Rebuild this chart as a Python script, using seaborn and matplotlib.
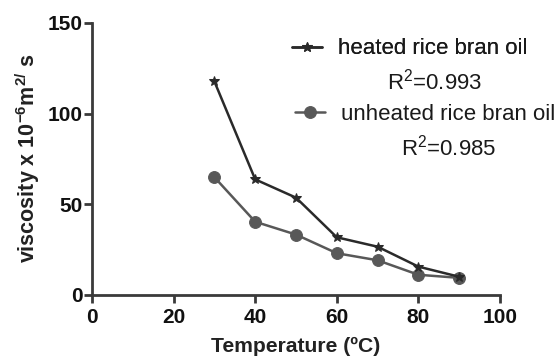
import matplotlib
matplotlib.use("Agg")
import matplotlib.pyplot as plt
import seaborn as sns
import pandas as pd

temperature = [30, 40, 50, 60, 70, 80, 90]
heated = [117.7, 63.6, 53.5, 31.6, 26.4, 15.4, 9.8]
unheated = [64.8, 40.2, 33.1, 22.8, 18.9, 10.9, 9.2]
series_names = ["heated rice bran oil", "unheated rice bran oil"]
r2_labels = ["R$^2$=0.993", "R$^2$=0.985"]
x_ticks = [0, 20, 40, 60, 80, 100]
y_ticks = [0, 50, 100, 150]

sns.set_style("ticks")
plt.rcParams["font.family"] = ["Liberation Sans", "DejaVu Sans"]
plt.rcParams["mathtext.fontset"] = "custom"
plt.rcParams["mathtext.rm"] = "Liberation Sans"
plt.rcParams["mathtext.bf"] = "Liberation Sans:bold"
plt.rcParams["mathtext.default"] = "rm"

fig = plt.figure(figsize=(5.59, 3.59), dpi=100)
ax = fig.add_axes([92 / 559, 1 - 294.5 / 359, 408 / 559, 271.5 / 359])

df_h = pd.DataFrame({"T": temperature, "v": heated})
df_u = pd.DataFrame({"T": temperature, "v": unheated})

sns.lineplot(data=df_h, x="T", y="v", ax=ax, color="#2a2a2a", lw=1.8,
             marker="*", markersize=7.5, markeredgecolor="#2a2a2a", label=series_names[0],
             legend=False, zorder=4)
sns.lineplot(data=df_u, x="T", y="v", ax=ax, color="#585858", lw=1.8,
             marker="o", markersize=8.5, markeredgecolor="#585858", label=series_names[1],
             legend=False, zorder=3)

ax.set_xlim(0, 100)
ax.set_ylim(0, 150)
ax.set_xticks(x_ticks)
ax.set_yticks(y_ticks)
for s in ["top", "right"]:
    ax.spines[s].set_visible(False)
for s in ["left", "bottom"]:
    ax.spines[s].set_linewidth(2.0)
    ax.spines[s].set_color("#3a3a3a")
ax.tick_params(axis="both", direction="out", length=6, width=2, color="#3a3a3a",
               labelsize=15, labelcolor="#111111")
ax.tick_params(axis="y", pad=1)
ax.tick_params(axis="x", pad=4)
for lab in ax.get_xticklabels() + ax.get_yticklabels():
    lab.set_fontweight("bold")

ax.set_xlabel("Temperature (ºC)", fontsize=15.2, fontweight="bold", color="#222222", labelpad=7)
ax.set_ylabel("viscosity x 10$^{\\mathbf{-6}}$m$^{\\mathbf{2/}}$ s", fontsize=15.5,
              fontweight="bold", color="#222222", labelpad=4)

lines = ax.get_lines()
leg1 = fig.legend(handles=[lines[0]], labels=[series_names[0]], loc="center left",
                  bbox_to_anchor=(292 / 559, 1 - 49 / 359), frameon=False, fontsize=16,
                  borderpad=0, borderaxespad=0, handlelength=1.35, handletextpad=0.7)
fig.add_artist(leg1)
leg2 = fig.legend(handles=[lines[1]], labels=[series_names[1]], loc="center left",
                  bbox_to_anchor=(295 / 559, 1 - 114 / 359), frameon=False, fontsize=16,
                  borderpad=0, borderaxespad=0, handlelength=1.35, handletextpad=0.7)
for lg in (leg1, leg2):
    for t in lg.get_texts():
        t.set_color("#1a1a1a")

fig.text(435 / 559, 1 - 82 / 359, r2_labels[0], ha="center", va="center", fontsize=16, color="#1a1a1a")
fig.text(449 / 559, 1 - 148 / 359, r2_labels[1], ha="center", va="center", fontsize=16, color="#1a1a1a")

fig.savefig("out.png", dpi=100)
